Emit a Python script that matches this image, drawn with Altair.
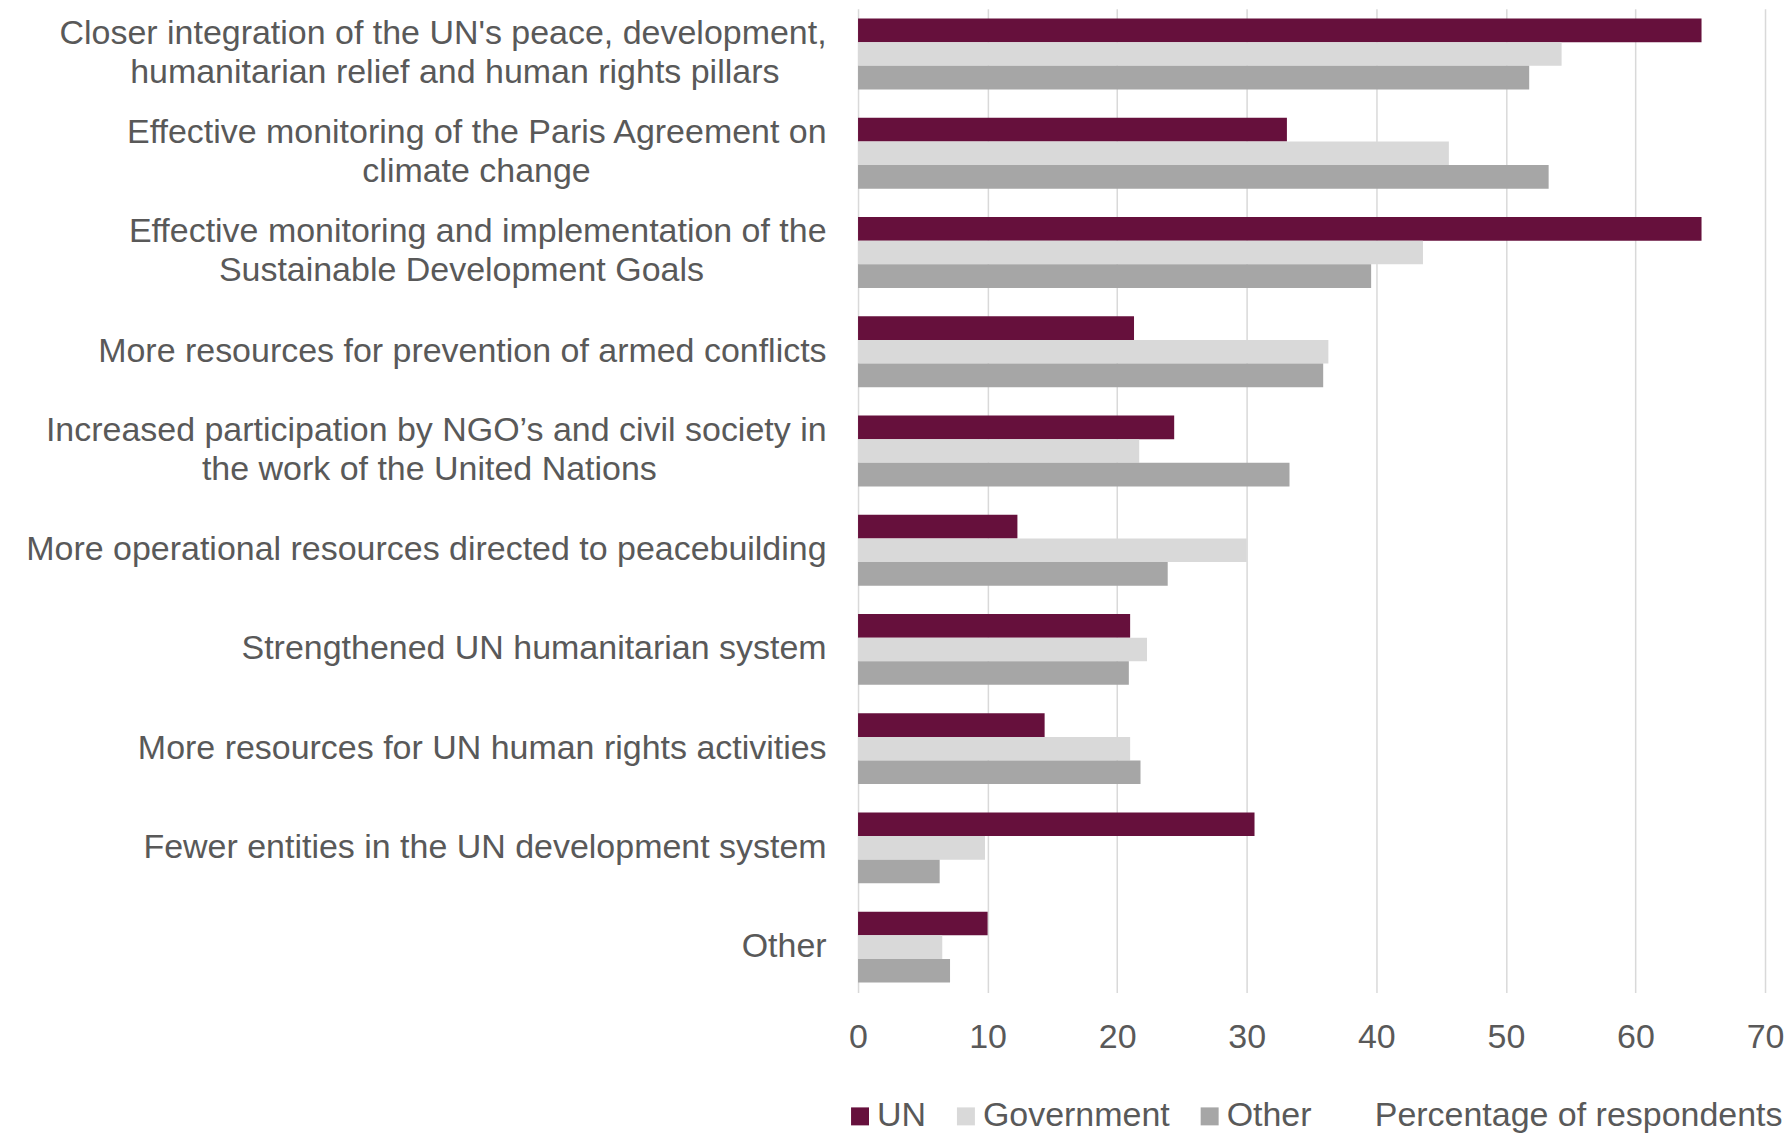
import altair as alt
import pandas as pd

categories = [
    "Closer integration of the UN's peace, development,|humanitarian relief and human rights pillars",
    "Effective monitoring of the Paris Agreement on|climate change",
    "Effective monitoring and implementation of the|Sustainable Development Goals",
    "More resources for prevention of armed conflicts",
    "Increased participation by NGO\u2019s and civil society in|the work of the United Nations",
    "More operational resources directed to peacebuilding",
    "Strengthened UN humanitarian system",
    "More resources for UN human rights activities",
    "Fewer entities in the UN development system",
    "Other",
]
series = ["UN", "Government", "Other"]
un_values = [65.1, 33.1, 65.1, 21.3, 24.4, 12.3, 21.0, 14.4, 30.6, 10.0]
gov_values = [54.3, 45.6, 43.6, 36.3, 21.7, 30.0, 22.3, 21.0, 9.8, 6.5]
other_values = [51.8, 53.3, 39.6, 35.9, 33.3, 23.9, 20.9, 21.8, 6.3, 7.1]
x_ticks = [0, 10, 20, 30, 40, 50, 60, 70]
colors = ["#66103C", "#D9D9D9", "#A6A6A6"]

rows = []
for s, vals in zip(series, [un_values, gov_values, other_values]):
    for c, v in zip(categories, vals):
        rows.append({"category": c, "series": s, "value": v})
df = pd.DataFrame(rows)

TXT = "#595959"
FS = 34
NB = "\u00a0"
ZW = "\u200c"

# second line of a two-line label is centred under the first one
l1 = "split(datum.label, '|')[0]"
l2 = "split(datum.label, '|')[1]"
label_expr = (
    "length(split(datum.label, '|')) > 1 ? "
    "[" + l1 + ", "
    "pad(" + l2 + ", length(" + l2 + ") + "
    "max(0, round(0.78 * (length(" + l1 + ") - length(" + l2 + ")))), '" + NB + "') + '" + ZW + "'] "
    ": datum.label"
)

W = 908
H = 985

chart = alt.Chart(df).mark_bar().encode(
    x=alt.X(
        "value:Q",
        scale=alt.Scale(domain=[0, 70], nice=False),
        axis=alt.Axis(
            values=x_ticks,
            title="Percentage of respondents",
            titleX=W + 17,
            titleY=123,
            titleAlign="right",
            titleBaseline="middle",
            titleFontSize=FS,
            titleFontWeight="normal",
            titleColor=TXT,
            labelFontSize=FS,
            labelColor=TXT,
            labelPadding=28,
            labelFlush=False,
            grid=True,
            gridColor="#D9D9D9",
            gridWidth=1.5,
            domain=False,
            ticks=False,
        ),
    ),
    y=alt.Y(
        "category:N",
        sort=categories,
        scale=alt.Scale(paddingInner=0.286, paddingOuter=0.1),
        axis=alt.Axis(
            title=None,
            labelExpr=label_expr,
            labelFontSize=FS,
            labelColor=TXT,
            labelLineHeight=39,
            labelLimit=2000,
            labelPadding=32,
            labelBaseline={
                "condition": {"test": "indexof(datum.label, '|') >= 0", "value": "line-bottom"},
                "value": "middle",
            },
            domain=False,
            ticks=False,
            grid=False,
        ),
    ),
    yOffset=alt.YOffset(
        "series:N",
        sort=series,
        scale=alt.Scale(paddingInner=0, paddingOuter=0),
    ),
    color=alt.Color(
        "series:N",
        sort=series,
        scale=alt.Scale(domain=series, range=colors),
        legend=alt.Legend(
            title=None,
            orient="none",
            direction="horizontal",
            legendX=-15,
            legendY=1092,
            symbolType="square",
            symbolSize=324,
            symbolStrokeWidth=0,
            labelFontSize=FS,
            labelColor=TXT,
            labelOffset=0,
            labelLimit=600,
            columnPadding=22,
            padding=0,
        ),
    ),
).properties(
    width=W,
    height=H,
    padding={"left": 17, "top": 0, "right": 0, "bottom": 0},
).configure(
    font="Liberation Sans",
    view={"stroke": None},
)

chart.save("out.html", embed_options={"renderer": "svg", "actions": False})
